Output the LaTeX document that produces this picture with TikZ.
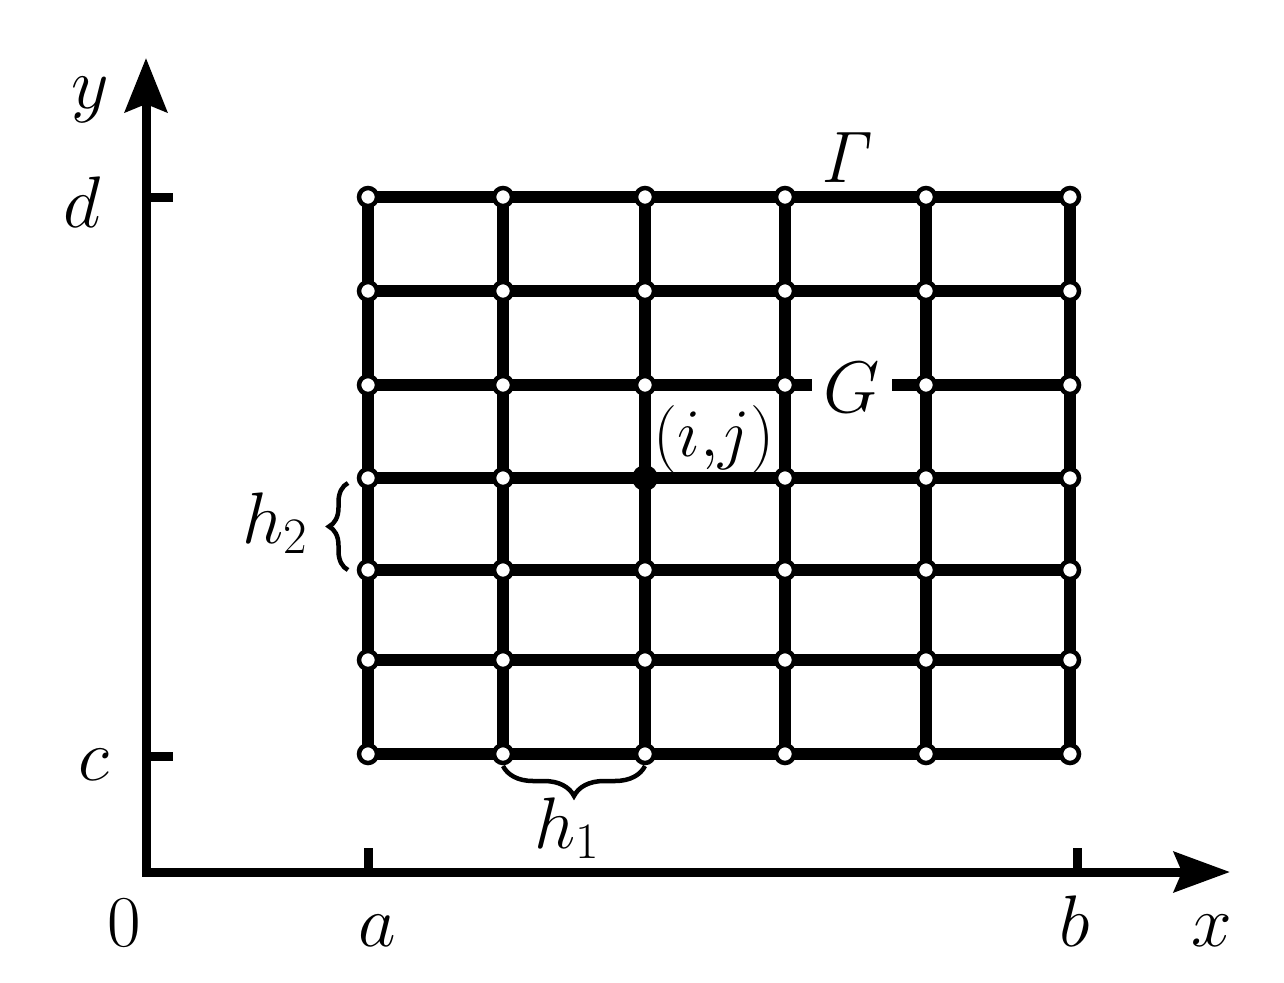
\RequirePackage{fix-cm}
\documentclass[tikz,border=0pt]{standalone}
\usetikzlibrary{arrows.meta,decorations.pathreplacing}
\begin{document}
\begin{tikzpicture}[x=1pt,y=-1pt,
  lbl/.style={font=\fontsize{73}{88}\selectfont, inner sep=0pt, anchor=base},
  gridline/.style={line width=12pt},
  axisline/.style={line width=9pt},
  vtx/.style={circle, draw, line width=4.5pt, fill=white, minimum size=18pt, inner sep=0pt},
  dotvtx/.style={circle, fill=black, minimum size=26pt, inner sep=0pt},
  bracestyle/.style={line width=4.5pt, decorate, decoration={brace, amplitude=#1}}]
\useasboundingbox (0,0) rectangle (1284,982);
% axes
\coordinate (O) at (146,872);
\coordinate (X) at (1230,872);
\coordinate (Y) at (146,58);
\draw[axisline, line join=miter, {Stealth[length=54pt,width=42pt,inset=8pt]}-{Stealth[length=56pt,width=40pt,inset=8pt]}] (Y) -- (O) -- (X);
% ticks
\coordinate (td0) at (146,197); \coordinate (td1) at (173,197);
\coordinate (tc0) at (146,756); \coordinate (tc1) at (173,756);
\coordinate (ta0) at (368,872); \coordinate (ta1) at (368,848);
\coordinate (tb0) at (1077,872); \coordinate (tb1) at (1077,848);
\draw[axisline] (td0) -- (td1);
\draw[axisline] (tc0) -- (tc1);
\draw[axisline] (ta0) -- (ta1);
\draw[axisline] (tb0) -- (tb1);
% grid coordinates
\foreach \i/\x in {1/368,2/503,3/645,4/785,5/926,6/1070}{
  \foreach \j/\y in {1/197,2/291,3/385,4/478,5/570,6/660,7/754}{
    \coordinate (p\i\j) at (\x,\y);
  }
}
\foreach \j in {1,...,7}{ \draw[gridline] (p1\j) -- (p6\j); }
\foreach \i in {1,...,6}{ \draw[gridline] (p\i1) -- (p\i7); }
% G label cuts the line
\node[lbl, fill=white, inner xsep=12pt] (lG) at (852,412) {$G$};
% vertices
\foreach \i in {1,...,6}{
  \foreach \j in {1,...,7}{
    \ifnum\i=3 \ifnum\j=4 \node[dotvtx] (n\i\j) at (p\i\j) {}; \else \node[vtx] (n\i\j) at (p\i\j) {}; \fi
    \else \node[vtx] (n\i\j) at (p\i\j) {}; \fi
  }
}
% braces
\coordinate (b1s) at (645,766); \coordinate (b1e) at (503,766);
\draw[bracestyle=30pt] (b1s) -- (b1e);
\coordinate (b2s) at (348,570); \coordinate (b2e) at (348,483);
\draw[bracestyle=19pt] (b2s) -- (b2e);
% labels
\node[lbl] (ly) at (90,108) {$y$};
\node[lbl] (ld) at (82,227) {$d$};
\node[lbl] (lc) at (94,780) {$c$};
\node[lbl] (l0) at (124,946) {$0$};
\node[lbl] (la) at (377,946) {$a$};
\node[lbl] (lb) at (1075,946) {$b$};
\node[lbl] (lx) at (1212,946) {$x$};
\node[lbl] (lGam) at (848,182) {$\mathit{\Gamma}$};
\node[lbl, font=\fontsize{68}{80}\selectfont] (lij) at (714,456) {$(i{,}j)$};
\node[lbl] (lh2) at (275,543) {$h_2$};
\node[lbl] (lh1) at (567,848) {$h_1$};
\end{tikzpicture}
\end{document}
